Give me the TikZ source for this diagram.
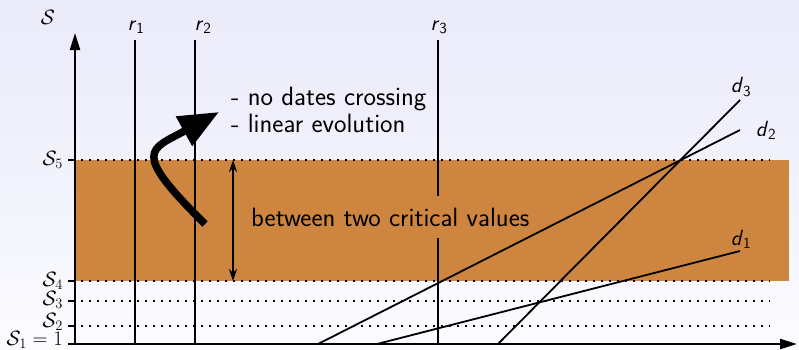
\documentclass[tikz,border=0pt]{standalone}
\usetikzlibrary{arrows.meta}
\definecolor{band}{RGB}{205,133,63}
\definecolor{bgtop}{RGB}{234,234,250}
\definecolor{bgbot}{RGB}{251,251,255}
\newcommand{\lbl}[2]{\textsf{\slshape #1}\textsubscript{\textsf{#2}}}
\begin{document}
\begin{tikzpicture}[x=1pt,y=-1pt,
  axis/.style={line width=2.2pt,-{Triangle[length=17pt,width=10pt]}},
  rline/.style={line width=1.8pt},
  dline/.style={line width=1.8pt},
  dotline/.style={line width=2pt,dash pattern=on 2pt off 6pt},
  tick/.style={line width=1.6pt},
  ticklbl/.style={anchor=east,inner sep=0pt,font=\fontsize{20}{22}\selectfont},
  curlbl/.style={inner sep=0pt,font=\fontsize{22}{26}\selectfont},
  txt/.style={inner sep=0pt,font=\sffamily\fontsize{26.5}{30}\selectfont}]
\shade[top color=bgtop,bottom color=bgbot] (0,0) rectangle (799,349);
\useasboundingbox (0,0) rectangle (799,349);
% band
\fill[band] (75,160) rectangle (789,281);
% dotted levels
\coordinate (s5a) at (75,160); \coordinate (s5b) at (770,160);
\coordinate (s4a) at (75,281); \coordinate (s4b) at (770,281);
\coordinate (s3a) at (75,301); \coordinate (s3b) at (770,301);
\coordinate (s2a) at (75,326); \coordinate (s2b) at (770,326);
\foreach \p in {5,4,3,2} \draw[dotline] ([xshift=6pt]s\p a) -- (s\p b);
% ticks
\coordinate (s1a) at (75,344);
\foreach \p in {5,4,3,2,1} \draw[tick] ([xshift=-7pt]s\p a) -- (s\p a);
\node[ticklbl] (t5) at (63,160) {$\mathcal{S}_5$};
\node[ticklbl] (t4) at (63,281) {$\mathcal{S}_4$};
\node[ticklbl] (t3) at (63,300) {$\mathcal{S}_3$};
\node[ticklbl] (t2) at (63,322) {$\mathcal{S}_2$};
\node[ticklbl] (t1) at (63,339.5) {$\mathcal{S}_1=1$};
% r lines
\coordinate (r1t) at (135,40); \coordinate (r1b) at (135,344);
\coordinate (r2t) at (195,40); \coordinate (r2b) at (195,344);
\coordinate (r3t) at (438,40); \coordinate (r3b) at (438,344);
\draw[rline] (r1t) -- (r1b);
\draw[rline] (r2t) -- (r2b);
\draw[rline] (r3t) -- (r3b);
\node[curlbl] (r1l) at (136,27) {\lbl{r}{1}};
\node[curlbl] (r2l) at (203,27) {\lbl{r}{2}};
\node[curlbl] (r3l) at (439,27) {\lbl{r}{3}};
% band text (covers r3)
\node[txt,fill=band,inner ysep=12pt,inner xsep=1pt,anchor=west] (between) at (250,217) {between two critical values};
% d lines
\coordinate (d1a) at (377,344); \coordinate (d1b) at (740,251);
\coordinate (d2a) at (318,344); \coordinate (d2b) at (740,130);
\coordinate (d3a) at (498,344); \coordinate (d3b) at (740,100);
\draw[dline] (d1a) -- (d1b);
\draw[dline] (d2a) -- (d2b);
\draw[dline] (d3a) -- (d3b);
\node[curlbl] (d1l) at (741,239) {\lbl{d}{1}};
\node[curlbl] (d2l) at (766,130) {\lbl{d}{2}};
\node[curlbl] (d3l) at (741,87) {\lbl{d}{3}};
% axes
\coordinate (o) at (75,344);
\coordinate (ytop) at (75,33);
\coordinate (xend) at (797,344);
\draw[axis] (o) -- (ytop);
\draw[axis] ([xshift=-1pt]o) -- (xend);
\node[curlbl] (Sl) at (48,17) {$\mathcal{S}$};
% double arrow
\coordinate (vt) at (233,160); \coordinate (vb) at (233,281);
\draw[line width=1.6pt,{Stealth[length=12pt,width=8pt]}-{Stealth[length=12pt,width=8pt]}] (vt) -- (vb);
% notes
\node[txt,anchor=west] (n1) at (231,99) {- no dates crossing};
\node[txt,anchor=west] (n2) at (231,123) {- linear evolution};
\coordinate (ca) at (205,224); \coordinate (cb) at (219,112);
\draw[line width=7.5pt,-{Triangle[length=40pt,width=32pt]}] (ca) .. controls (130,150) and (150,150) .. (cb);
\end{tikzpicture}
\end{document}
